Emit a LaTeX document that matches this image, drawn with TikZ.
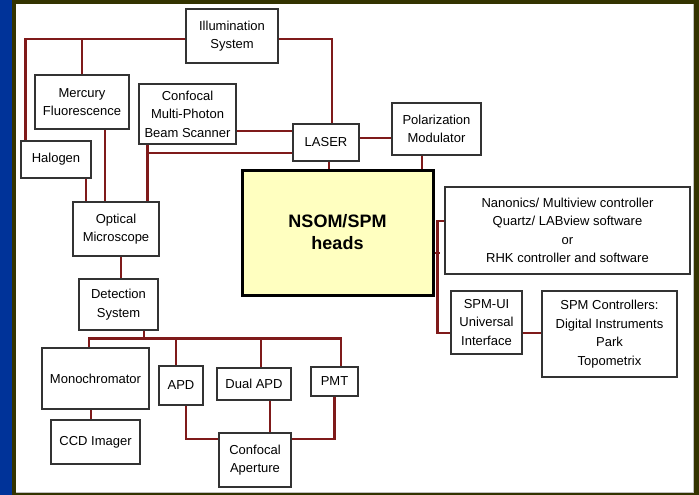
\documentclass[tikz,border=0pt]{standalone}
\usepackage{fontspec}
\setmainfont{Liberation Sans}
\definecolor{framedark}{HTML}{333300}
\definecolor{frameblue}{HTML}{003399}
\definecolor{wirered}{HTML}{7F1A1A}
\definecolor{headyellow}{HTML}{FFFFC0}
\tikzset{
  box/.style={draw=black!80, line width=1.4pt, fill=white, align=center, inner sep=2pt,
    font=\fontsize{13}{18.5}\selectfont},
  headbox/.style={draw=black, line width=3pt, fill=headyellow, align=center,
    font=\fontsize{18}{22}\selectfont\bfseries},
  wire/.style={draw=wirered, line width=2.8pt}
}

\begin{document}
\begin{tikzpicture}[x=1pt, y=-1pt]
  \fill[framedark] (0,0) rectangle (699,495);
  \fill[frameblue] (0,0) rectangle (12,495);
  \fill[white] (16,4) rectangle (693,492);
  \draw[black!25, line width=1pt] (693,4) -- (693,492) -- (16,492);

  \node[box, minimum width=92pt, minimum height=54pt] (illum) at (232,36) {Illumination\\System};
  \node[box, minimum width=94pt, minimum height=54pt] (mercury) at (82,102) {Mercury\\Fluorescence};
  \node[box, minimum width=97pt, minimum height=60pt] (scanner) at (187.5,114) {Confocal\\Multi-Photon\\Beam Scanner};
  \node[box, minimum width=70pt, minimum height=37pt] (halogen) at (56,159.5) {Halogen};
  \node[box, minimum width=66pt, minimum height=37pt] (laser) at (326,142.5) {LASER};
  \node[box, minimum width=89pt, minimum height=52pt] (polar) at (436.5,129) {Polarization\\Modulator};
  \node[headbox, minimum width=191pt, minimum height=125pt] (nsom) at (337.5,232.5) {NSOM/SPM\\heads};
  \node[box, minimum width=245pt, minimum height=87pt] (nanonics) at (567.5,230.5)
    {Nanonics/ Multiview controller\\Quartz/ LABview software\\or\\RHK controller and software};
  \node[box, minimum width=71pt, minimum height=63pt] (spmui) at (486.5,322.5) {SPM-UI\\Universal\\Interface};
  \node[box, minimum width=135pt, minimum height=86pt] (spmctrl) at (609.5,334)
    {SPM Controllers:\\Digital Instruments\\Park\\Topometrix};
  \node[box, minimum width=86pt, minimum height=54pt] (optical) at (116,229) {Optical\\Microscope};
  \node[box, minimum width=79pt, minimum height=51pt] (detect) at (118.5,304.5) {Detection\\System};
  \node[box, minimum width=107pt, minimum height=61pt] (mono) at (95.5,378.5) {Monochromator};
  \node[box, minimum width=89pt, minimum height=44pt] (ccd) at (95.5,442) {CCD Imager};
  \node[box, minimum width=44pt, minimum height=39pt] (apd) at (181,385.5) {APD};
  \node[box, minimum width=74pt, minimum height=32pt] (dualapd) at (254,384) {Dual APD};
  \node[box, minimum width=47pt, minimum height=29pt] (pmt) at (334.5,381.5) {PMT};
  \node[box, minimum width=72pt, minimum height=54pt] (aperture) at (255,460) {Confocal\\Aperture};

  \coordinate (top) at ([yshift=-3pt]illum.west);
  \coordinate (drop) at ([xshift=9pt]scanner.south west);
  \coordinate (bus) at ([xshift=25.5pt,yshift=-8pt]detect.south);

  \draw[wire] (top) -| ([xshift=5pt]halogen.north west);
  \draw[wire] (mercury.north) -- (mercury.north |- top);
  \draw[wire] ([yshift=-3pt]illum.east) -| ([xshift=6pt]laser.north);
  \draw[wire] ([xshift=23pt]mercury.south) -- ([xshift=23pt]mercury.south |- optical.north);
  \draw[wire] ([xshift=30pt]halogen.south) -- ([xshift=30pt]halogen.south |- optical.north);
  \draw[wire] ([yshift=11.5pt]laser.west) -- ([yshift=11.5pt]laser.west -| scanner.east);
  \draw[wire] (drop) -- (drop |- optical.north);
  \draw[wire] ([yshift=-10.5pt]laser.west) -- ([yshift=-10.5pt]laser.west -| drop);
  \draw[wire] ([yshift=4.5pt]laser.east) -- ([yshift=4.5pt]laser.east -| polar.west);
  \draw[wire] ([xshift=3pt]laser.south) -- ([xshift=3pt]laser.south |- nsom.north);
  \draw[wire] ([xshift=-14.5pt]polar.south) -- ([xshift=-14.5pt]polar.south |- nsom.north);
  \draw[wire] ([yshift=-20.5pt]nsom.east) -- ++(5,0);
  \draw[wire] ([yshift=9.5pt]nanonics.west) -- ++(-7,0) |- ([yshift=-10.5pt]spmui.west);
  \draw[wire] ([yshift=-10.5pt]spmui.east) -- ([yshift=-10.5pt]spmui.east -| spmctrl.west);

  \draw[wire] ([xshift=5pt]optical.south) -- ([xshift=5pt]optical.south |- detect.north);
  \draw[wire] ([xshift=25.5pt]detect.south) -- (bus);
  \draw[wire] ([xshift=-6.5pt]mono.north) |- (bus) -| ([xshift=6.5pt]pmt.north);
  \draw[wire] ([xshift=-5pt]apd.north) -- ([xshift=-5pt]apd.north |- bus);
  \draw[wire] ([xshift=7pt]dualapd.north) -- ([xshift=7pt]dualapd.north |- bus);
  \draw[wire] ([xshift=-4.5pt]mono.south) -- ([xshift=-4.5pt]mono.south |- ccd.north);
  \draw[wire] ([xshift=5pt]apd.south) |- ([yshift=21pt]aperture.west);
  \draw[wire] ([xshift=16pt]dualapd.south) -- ([xshift=16pt]dualapd.south |- aperture.north);
  \draw[wire] (pmt.south) |- ([yshift=21pt]aperture.east);
\end{tikzpicture}
\end{document}
